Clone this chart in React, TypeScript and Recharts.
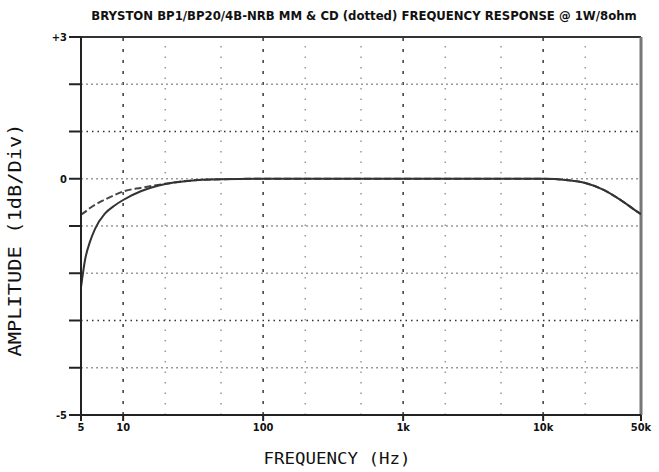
import { LineChart, Line, XAxis, YAxis, ReferenceLine } from 'recharts';

// frequency points (Hz)
const freqs = [5, 5.35, 5.8, 6.3, 7.4, 8.75, 10, 13.5, 17.7, 23, 30, 50, 100, 1000, 10000, 15000, 20000, 26800, 35400, 46600, 50000];
// MM input (solid)
const mmDb = [-2.3, -1.71, -1.33, -1.06, -0.74, -0.56, -0.45, -0.26, -0.15, -0.08, -0.04, -0.01, 0, 0, 0, -0.03, -0.09, -0.23, -0.44, -0.69, -0.75];
// CD input (dotted)
const cdDb = [-0.76, -0.7, -0.62, -0.55, -0.44, -0.34, -0.27, -0.19, -0.13, -0.08, -0.04, -0.01, 0, 0, 0, -0.03, -0.09, -0.23, -0.44, -0.69, -0.75];

const xTicks = [5, 10, 100, 1000, 10000, 50000];
const xTickLabels = ['5', '10', '100', '1k', '10k', '50k'];
const yTicks = [-5, -4, -3, -2, -1, 0, 1, 2, 3];
const yTickLabels: Record<string, string> = { '3': '+3', '0': '0', '-5': '-5' };

const decadeLines = [10, 100, 1000, 10000];
const minorLines = [20, 50, 200, 500, 2000, 5000, 20000];
const dbLines = [2, 1, 0, -1, -2, -3, -4];
const darkDbLines = [1, -3];

const data = freqs.map((f, i) => ({ f, mm: mmDb[i], cd: cdDb[i] }));

const tickFont = { fontFamily: 'DejaVu Sans Condensed', fontWeight: 'bold', fontSize: 11, fill: '#111' };

export default function App() {
  return (
    <div style={{ position: 'absolute', left: 0, top: 0, width: 659, height: 472, background: '#fff' }}>
      <LineChart width={659} height={472} data={data} margin={{ top: 37, right: 18, left: 0, bottom: 27 }}>
        <XAxis
          dataKey="f"
          type="number"
          scale="log"
          domain={[5, 50000]}
          ticks={xTicks}
          tickFormatter={(v: number) => xTickLabels[xTicks.indexOf(v)] ?? ''}
          tick={tickFont}
          tickSize={6}
          height={30}
          stroke="#222"
          strokeWidth={2}
          interval={0}
          allowDataOverflow
        />
        <YAxis
          type="number"
          domain={[-5, 3]}
          ticks={yTicks}
          tickFormatter={(v: number) => yTickLabels[String(v)] ?? ''}
          tick={tickFont}
          tickSize={12}
          width={81}
          stroke="#222"
          strokeWidth={2}
          interval={0}
          allowDataOverflow
        />
        {minorLines.map((x) => (
          <ReferenceLine key={'mx' + x} x={x} stroke="#999" strokeWidth={1.5} strokeDasharray="1.5 9" />
        ))}
        {decadeLines.map((x) => (
          <ReferenceLine key={'dx' + x} x={x} stroke="#444" strokeWidth={1.6} strokeDasharray="3 8" />
        ))}
        {dbLines.map((y) => (
          <ReferenceLine
            key={'y' + y}
            y={y}
            stroke={darkDbLines.includes(y) ? '#333' : '#999'}
            strokeWidth={1.5}
            strokeDasharray={darkDbLines.includes(y) ? '1.5 4' : '2 3'}
          />
        ))}
        <ReferenceLine y={3} stroke="#333" strokeWidth={2} />
        <ReferenceLine x={50000} stroke="#777" strokeWidth={3} />
        <Line type="monotone" dataKey="cd" stroke="#444" strokeWidth={2} strokeDasharray="7 3" dot={false} isAnimationActive={false} />
        <Line type="monotone" dataKey="mm" stroke="#333" strokeWidth={2} dot={false} isAnimationActive={false} />
      </LineChart>
      <svg width={659} height={472} style={{ position: 'absolute', left: 0, top: 0, pointerEvents: 'none' }}>
        <text x={364} y={20} textAnchor="middle"
          style={{ fontFamily: 'DejaVu Sans Condensed', fontWeight: 'bold', fontSize: 13, fill: '#111' }}>
          BRYSTON BP1/BP20/4B-NRB MM &amp; CD (dotted) FREQUENCY RESPONSE @ 1W/8ohm
        </text>
        <text x={337} y={464} textAnchor="middle" textLength={147} lengthAdjust="spacingAndGlyphs"
          style={{ fontFamily: 'DejaVu Sans Mono', fontSize: 16, fill: '#111' }}>
          FREQUENCY  (Hz)
        </text>
        <text transform="translate(21,240) rotate(-90)" textAnchor="middle" textLength={233} lengthAdjust="spacingAndGlyphs"
          style={{ fontFamily: 'DejaVu Sans Mono', fontSize: 18, fill: '#111' }}>
          AMPLITUDE  (1dB/Div)
        </text>
      </svg>
    </div>
  );
}
